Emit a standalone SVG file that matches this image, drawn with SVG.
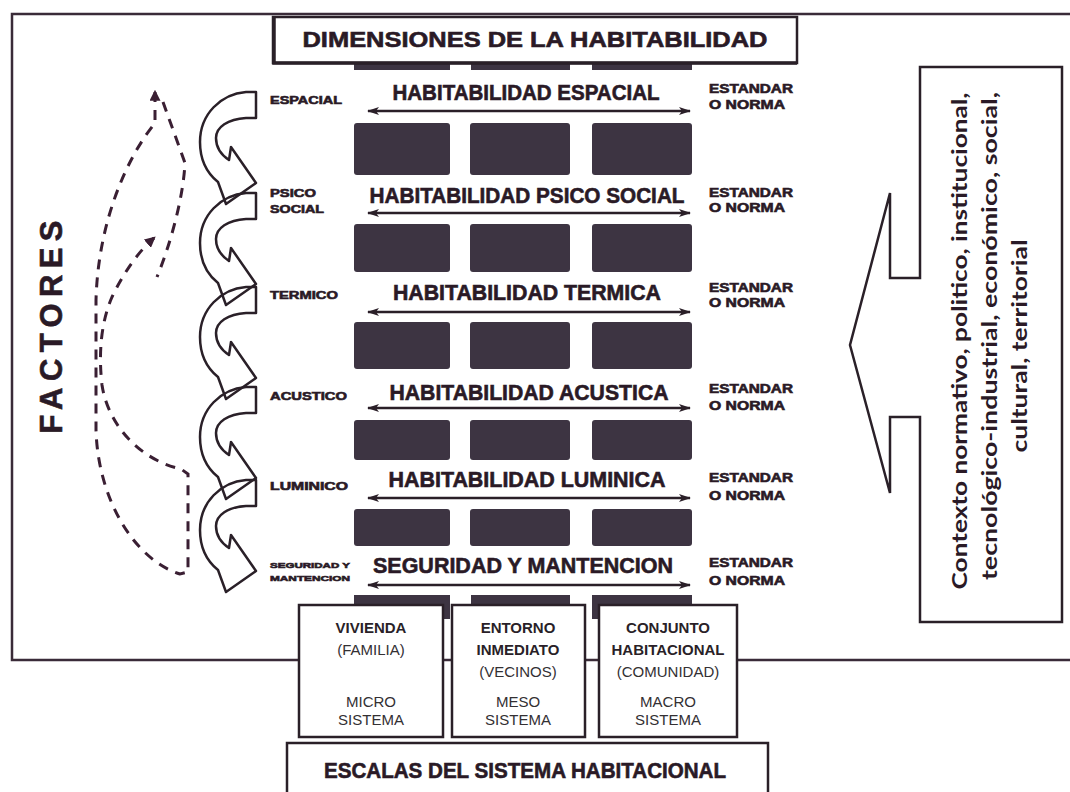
<svg xmlns="http://www.w3.org/2000/svg" width="1070" height="792" viewBox="0 0 1070 792">
<defs>
<style>
.frame{fill:none;stroke:#3a2b38;stroke-width:2.5}
.box{fill:#fff;stroke:#2a2028;stroke-width:2.5}
.dark{fill:#3d3442}
.t{font-family:"Liberation Sans",Arial,sans-serif;font-weight:bold;fill:#2a1a26;stroke:#2a1a26;stroke-width:0.6}
.ttl{font-size:22px;text-anchor:middle}
.lbl{font-size:11px}
.std{font-size:12.5px}
.conn{stroke:#2a1f28;stroke-width:2.5;fill:none}
.dash{stroke:#3a1f33;stroke-width:3;fill:none;stroke-dasharray:10 8}
.curl{fill:none;stroke:#2a2028;stroke-width:2.5;stroke-linejoin:round}
.sm{font-family:"Liberation Sans",Arial,sans-serif;font-size:15px;fill:#333033;text-anchor:middle}
.smb{font-weight:bold;fill:#2a1f28}
.ctx{font-family:Lato,"Open Sans",sans-serif;font-weight:bold;font-size:21px;fill:#2a1a26;text-anchor:middle}
</style>
<marker id="ah" viewBox="0 0 12 8" refX="11" refY="4" markerWidth="12" markerHeight="8" markerUnits="userSpaceOnUse" orient="auto-start-reverse"><path d="M0,0 L12,4 L0,8 L3,4 z" fill="#2a1f28"/></marker>
<marker id="dh" viewBox="0 0 10 10" refX="8" refY="5" markerWidth="11" markerHeight="11" markerUnits="userSpaceOnUse" orient="auto-start-reverse"><path d="M0,0 L10,5 L0,10 z" fill="#3a1f33"/></marker>
<path id="curlShape" class="curl" d="M0 0 L-10 0 C-35 2 -56 22 -56 50 C-56 70 -48 82 -38 90 L-30 112 L0 91 L-25 55 L-27 68 C-36 62 -40 55 -40 46 C-40 35 -28 27 -10 26 L0 26 Z"/>
</defs>
<rect width="1070" height="792" fill="#fff"/>

<g id="frame">
<path class="frame" d="M1070 14 L12 14 L12 660 L1070 660"/>
</g>

<g id="dims-title">
<rect class="dark" x="354" y="60" width="96" height="10"/>
<rect class="dark" x="471" y="60" width="99" height="10"/>
<rect class="dark" x="592" y="60" width="100" height="10"/>
<rect class="box" x="273" y="17" width="524" height="46"/>
<path d="M274 18 L274 63 L797 63" fill="none" stroke="#2a2028" stroke-width="3.5"/>
<text class="t ttl" x="535" y="47" font-size="21" textLength="465" lengthAdjust="spacingAndGlyphs">DIMENSIONES DE LA HABITABILIDAD</text>
</g>

<g id="blocks">
<rect class="dark" x="354" y="123" width="96" height="52" rx="3"/>
<rect class="dark" x="470" y="123" width="100" height="52" rx="3"/>
<rect class="dark" x="592" y="123" width="100" height="52" rx="3"/>
<rect class="dark" x="354" y="224" width="96" height="48" rx="3"/>
<rect class="dark" x="470" y="224" width="100" height="48" rx="3"/>
<rect class="dark" x="592" y="224" width="100" height="48" rx="3"/>
<rect class="dark" x="354" y="322" width="96" height="47" rx="3"/>
<rect class="dark" x="470" y="322" width="100" height="47" rx="3"/>
<rect class="dark" x="592" y="322" width="100" height="47" rx="3"/>
<rect class="dark" x="354" y="420" width="96" height="40" rx="3"/>
<rect class="dark" x="470" y="420" width="100" height="40" rx="3"/>
<rect class="dark" x="592" y="420" width="100" height="40" rx="3"/>
<rect class="dark" x="354" y="509" width="96" height="37" rx="3"/>
<rect class="dark" x="470" y="509" width="100" height="37" rx="3"/>
<rect class="dark" x="592" y="509" width="100" height="37" rx="3"/>
<rect class="dark" x="354" y="595" width="96" height="24"/>
<rect class="dark" x="471" y="595" width="99" height="24"/>
<rect class="dark" x="592" y="595" width="100" height="24"/>
</g>

<g id="titles">
<text class="t ttl" x="526" y="100" textLength="267" lengthAdjust="spacingAndGlyphs">HABITABILIDAD ESPACIAL</text>
<text class="t ttl" x="527" y="203" textLength="315" lengthAdjust="spacingAndGlyphs">HABITABILIDAD PSICO SOCIAL</text>
<text class="t ttl" x="527" y="300" textLength="268" lengthAdjust="spacingAndGlyphs">HABITABILIDAD  TERMICA</text>
<text class="t ttl" x="529" y="400" textLength="279" lengthAdjust="spacingAndGlyphs">HABITABILIDAD  ACUSTICA</text>
<text class="t ttl" x="527" y="487" textLength="277" lengthAdjust="spacingAndGlyphs">HABITABILIDAD  LUMINICA</text>
<text class="t ttl" x="523" y="573" textLength="300" lengthAdjust="spacingAndGlyphs">SEGURIDAD Y MANTENCION</text>
</g>

<g id="connectors">
<line class="conn" x1="368" y1="111" x2="690" y2="111" marker-start="url(#ah)" marker-end="url(#ah)"/>
<line class="conn" x1="368" y1="213" x2="690" y2="213" marker-start="url(#ah)" marker-end="url(#ah)"/>
<line class="conn" x1="368" y1="312" x2="690" y2="312" marker-start="url(#ah)" marker-end="url(#ah)"/>
<line class="conn" x1="368" y1="408" x2="690" y2="408" marker-start="url(#ah)" marker-end="url(#ah)"/>
<line class="conn" x1="368" y1="498" x2="690" y2="498" marker-start="url(#ah)" marker-end="url(#ah)"/>
<line class="conn" x1="368" y1="585" x2="690" y2="585" marker-start="url(#ah)" marker-end="url(#ah)"/>
<path class="dash" d="M155 92 L155 123 C125 160 98 225 96 300 L96 430 C98 500 135 560 180 574 L188 572 L188 474 L181 469 C140 460 108 425 102 385 C98 350 102 320 112 297 C125 270 140 250 154 238" marker-start="url(#dh)" marker-end="url(#dh)"/>
<path class="dash" d="M163 102 L185 163 C183 200 170 245 157 277"/>
</g>

<g id="factor-labels">
<text class="t lbl" x="270" y="104" textLength="72" lengthAdjust="spacingAndGlyphs">ESPACIAL</text>
<text class="t lbl" x="270" y="197" textLength="46" lengthAdjust="spacingAndGlyphs">PSICO</text>
<text class="t lbl" x="270" y="213" textLength="54" lengthAdjust="spacingAndGlyphs">SOCIAL</text>
<text class="t lbl" x="270" y="299" textLength="68" lengthAdjust="spacingAndGlyphs">TERMICO</text>
<text class="t lbl" x="270" y="400" textLength="77" lengthAdjust="spacingAndGlyphs">ACUSTICO</text>
<text class="t lbl" x="270" y="490" textLength="78" lengthAdjust="spacingAndGlyphs">LUMINICO</text>
<text class="t" x="270" y="568" font-size="8" textLength="80" lengthAdjust="spacingAndGlyphs">SEGURIDAD Y</text>
<text class="t" x="270" y="581" font-size="8" textLength="80" lengthAdjust="spacingAndGlyphs">MANTENCION</text>
</g>

<g id="standards">
<text class="t std" x="709" y="93" textLength="84" lengthAdjust="spacingAndGlyphs">ESTANDAR</text>
<text class="t std" x="709" y="109" textLength="76" lengthAdjust="spacingAndGlyphs">O NORMA</text>
<text class="t std" x="709" y="197" textLength="84" lengthAdjust="spacingAndGlyphs">ESTANDAR</text>
<text class="t std" x="709" y="212" textLength="76" lengthAdjust="spacingAndGlyphs">O NORMA</text>
<text class="t std" x="709" y="292" textLength="84" lengthAdjust="spacingAndGlyphs">ESTANDAR</text>
<text class="t std" x="709" y="307" textLength="76" lengthAdjust="spacingAndGlyphs">O NORMA</text>
<text class="t std" x="709" y="393" textLength="84" lengthAdjust="spacingAndGlyphs">ESTANDAR</text>
<text class="t std" x="709" y="410" textLength="76" lengthAdjust="spacingAndGlyphs">O NORMA</text>
<text class="t std" x="709" y="482" textLength="84" lengthAdjust="spacingAndGlyphs">ESTANDAR</text>
<text class="t std" x="709" y="500" textLength="76" lengthAdjust="spacingAndGlyphs">O NORMA</text>
<text class="t std" x="709" y="567" textLength="84" lengthAdjust="spacingAndGlyphs">ESTANDAR</text>
<text class="t std" x="709" y="585" textLength="76" lengthAdjust="spacingAndGlyphs">O NORMA</text>
</g>

<g id="factors">
<use href="#curlShape" transform="translate(256,92)"/>
<use href="#curlShape" transform="translate(256,193)"/>
<use href="#curlShape" transform="translate(256,287)"/>
<use href="#curlShape" transform="translate(256,387)"/>
<use href="#curlShape" transform="translate(256,480)"/>
<text class="t" transform="translate(62,327) rotate(-90)" font-family="Lato,'Open Sans',sans-serif" font-size="31" text-anchor="middle" textLength="213" lengthAdjust="spacing">FACTORES</text>
</g>

<g id="context">
<path class="box" d="M920 67 L1062 67 L1062 622 L920 622 L920 417 L890 417 L890 493 L850 345 L890 193 L890 278 L920 278 Z"/>
<text class="ctx" transform="translate(967,341) rotate(-90)" textLength="497" lengthAdjust="spacingAndGlyphs">Contexto normativo, politico, institucional,</text>
<text class="ctx" transform="translate(997,336) rotate(-90)" textLength="488" lengthAdjust="spacingAndGlyphs">tecnológico-industrial, económico, social,</text>
<text class="ctx" transform="translate(1027,346) rotate(-90)" textLength="213" lengthAdjust="spacingAndGlyphs">cultural, territorial</text>
</g>

<g id="vivienda">
<rect class="box" x="299" y="605" width="144" height="132" stroke-width="2"/>
<text class="sm smb" x="371" y="633">VIVIENDA</text>
<text class="sm" x="371" y="655">(FAMILIA)</text>
<text class="sm" x="371" y="707">MICRO</text>
<text class="sm" x="371" y="725">SISTEMA</text>
</g>
<g id="entorno">
<rect class="box" x="452" y="605" width="133" height="132" stroke-width="2"/>
<text class="sm smb" x="518" y="633">ENTORNO</text>
<text class="sm smb" x="518" y="655">INMEDIATO</text>
<text class="sm" x="518" y="677">(VECINOS)</text>
<text class="sm" x="518" y="707">MESO</text>
<text class="sm" x="518" y="725">SISTEMA</text>
</g>
<g id="conjunto">
<rect class="box" x="599" y="605" width="138" height="132" stroke-width="2"/>
<text class="sm smb" x="668" y="633">CONJUNTO</text>
<text class="sm smb" x="668" y="655">HABITACIONAL</text>
<text class="sm" x="668" y="677">(COMUNIDAD)</text>
<text class="sm" x="668" y="707">MACRO</text>
<text class="sm" x="668" y="725">SISTEMA</text>
</g>
<g id="escalas">
<rect class="box" x="287" y="743" width="481" height="60" stroke-width="2"/>
<text class="t ttl" x="525" y="778" font-size="21" textLength="402" lengthAdjust="spacingAndGlyphs">ESCALAS DEL SISTEMA HABITACIONAL</text>
</g>
</svg>
